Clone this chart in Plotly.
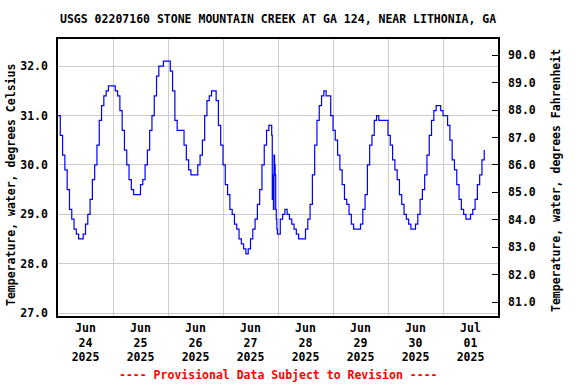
import pandas as pd
import plotly.graph_objects as go

# Hourly water temperature (deg C) starting 2025-06-24 00:00
temps_hourly = [
    # Jun 24
    31.0, 30.6, 30.2, 29.9, 29.5, 29.1, 28.9, 28.7, 28.6, 28.5, 28.5, 28.6,
    28.8, 29.0, 29.3, 29.7, 30.0, 30.4, 30.9, 31.2, 31.4, 31.5, 31.6, 31.6,
    # Jun 25
    31.6, 31.5, 31.4, 31.1, 30.7, 30.3, 30.0, 29.7, 29.5, 29.4, 29.4, 29.4,
    29.6, 29.7, 30.0, 30.3, 30.7, 31.0, 31.4, 31.8, 32.0, 32.0, 32.1, 32.1,
    # Jun 26
    32.1, 31.9, 31.5, 30.9, 30.7, 30.7, 30.7, 30.4, 30.1, 29.9, 29.8, 29.8,
    29.8, 30.0, 30.2, 30.5, 31.0, 31.3, 31.4, 31.5, 31.5, 31.3, 30.8, 30.4,
    # Jun 27
    30.0, 29.6, 29.4, 29.1, 29.0, 28.8, 28.7, 28.5, 28.4, 28.3, 28.2, 28.3,
    28.5, 28.7, 28.9, 29.2, 29.5, 30.0, 30.4, 30.7, 30.8, 30.8, 29.1, 29.1,
    # Jun 28
    28.6, 28.9, 29.0, 29.1, 29.0, 28.9, 28.8, 28.7, 28.6, 28.5, 28.5, 28.5,
    28.7, 28.9, 29.2, 29.8, 30.4, 30.9, 31.2, 31.4, 31.5, 31.4, 31.4, 31.0,
    # Jun 29
    30.7, 30.5, 30.2, 29.9, 29.6, 29.3, 29.2, 29.0, 28.8, 28.7, 28.7, 28.7,
    28.8, 29.1, 29.4, 30.0, 30.4, 30.6, 30.9, 31.0, 30.9, 30.9, 30.9, 30.9,
    # Jun 30
    30.6, 30.4, 30.1, 29.9, 29.7, 29.4, 29.2, 29.0, 28.9, 28.8, 28.7, 28.7,
    28.8, 29.0, 29.3, 29.5, 29.8, 30.2, 30.6, 30.9, 31.1, 31.2, 31.2, 31.1,
    # Jul 01
    31.0, 31.0, 30.8, 30.5, 30.1, 29.9, 29.6, 29.3, 29.1, 29.0, 28.9, 28.9,
    29.0, 29.1, 29.3, 29.6, 29.8, 30.1, 30.3,
]

# Extra sub-hourly readings during the erratic drop on the evening of Jun 27
spike_hours = [93.25, 93.5, 93.75, 94.25, 94.5, 94.75, 95.25, 95.5, 95.75]
spike_temps = [30.6, 29.3, 29.8, 30.2, 30.0, 29.8, 28.9, 28.7, 28.6]

start = pd.Timestamp("2025-06-24 00:00")
df = pd.DataFrame({
    "h": list(range(len(temps_hourly))) + spike_hours,
    "c": temps_hourly + spike_temps,
}).sort_values("h")
df["t"] = start + pd.to_timedelta(df["h"], unit="h")
df["f"] = df["c"] * 1.8 + 32

c_range = [26.94, 32.55]
f_range = [v * 1.8 + 32 for v in c_range]

FONT = "DejaVu Sans Mono"
fs = 11.5
PW, PH = 440, 277

fig = go.Figure()
fig.add_trace(go.Scatter(x=df["t"], y=df["c"], mode="lines", line_shape="hv",
                         line=dict(color="#0000FF", width=1.2), showlegend=False,
                         hoverinfo="skip"))
fig.add_trace(go.Scatter(x=df["t"], y=df["f"], mode="lines", yaxis="y2",
                         line=dict(color="rgba(0,0,0,0)", width=0), showlegend=False,
                         hoverinfo="skip"))

fig.update_layout(
    width=576, height=384,
    margin=dict(l=58, r=78, t=39, b=68, autoexpand=False),
    paper_bgcolor="white", plot_bgcolor="white",
    font=dict(family=FONT, size=fs, color="black", weight="bold"),
    xaxis=dict(
        type="date", automargin=False,
        range=["2025-06-24 00:00", "2025-07-02 00:00"],
        tick0="2025-06-24", dtick=86400000,
        ticklabelmode="period", tickformat="%b<br>%d<br>%Y",
        showgrid=True, gridcolor="#cccccc", gridwidth=1,
        showline=True, linecolor="black", linewidth=1.5, mirror=True,
        ticks="", zeroline=False, ticklabelstandoff=0,
        tickfont=dict(family=FONT, size=fs, weight="bold"),
    ),
    yaxis=dict(
        range=c_range, dtick=1, tick0=27, tickformat=".1f", automargin=False,
        showgrid=True, gridcolor="#cccccc", gridwidth=1,
        showline=True, linecolor="black", linewidth=1.5, mirror=True,
        ticks="", zeroline=False, ticklabelstandoff=6,
        tickfont=dict(family=FONT, size=fs, weight="bold"),
    ),
    yaxis2=dict(
        range=f_range, dtick=1, tick0=81, tickformat=".1f", automargin=False,
        overlaying="y", side="right", showgrid=False, zeroline=False,
        showline=True, linecolor="black", linewidth=1.5,
        ticks="inside", ticklen=6, tickcolor="black", tickwidth=1,
        ticklabelstandoff=6,
        tickfont=dict(family=FONT, size=fs, weight="bold"),
    ),
    annotations=[
        dict(text="USGS 02207160 STONE MOUNTAIN CREEK AT GA 124, NEAR LITHONIA, GA",
             xref="paper", yref="paper", x=0.5, y=1 + 20 / PH,
             xanchor="center", yanchor="middle", showarrow=False,
             font=dict(family=FONT, size=fs, weight="bold")),
        dict(text="Temperature, water, degrees Celsius",
             xref="paper", yref="paper", x=(11 - 58) / PW, y=(316 - 185) / PH,
             xanchor="center", yanchor="middle", textangle=-90, showarrow=False,
             font=dict(family=FONT, size=fs, weight="bold")),
        dict(text="Temperature, water, degrees Fahrenheit",
             xref="paper", yref="paper", x=(556 - 58) / PW, y=(316 - 181) / PH,
             xanchor="center", yanchor="middle", textangle=-90, showarrow=False,
             font=dict(family=FONT, size=fs, weight="bold")),
        dict(text="---- Provisional Data Subject to Revision ----",
             xref="paper", yref="paper", x=0.5, y=-(375 - 316) / PH,
             xanchor="center", yanchor="middle", showarrow=False,
             font=dict(family=FONT, size=fs, color="#FF0000", weight="bold")),
    ],
)

fig.write_html("out.html", config={"displayModeBar": False},
               post_script="document.body.style.margin='0px';document.body.style.padding='0px';")
